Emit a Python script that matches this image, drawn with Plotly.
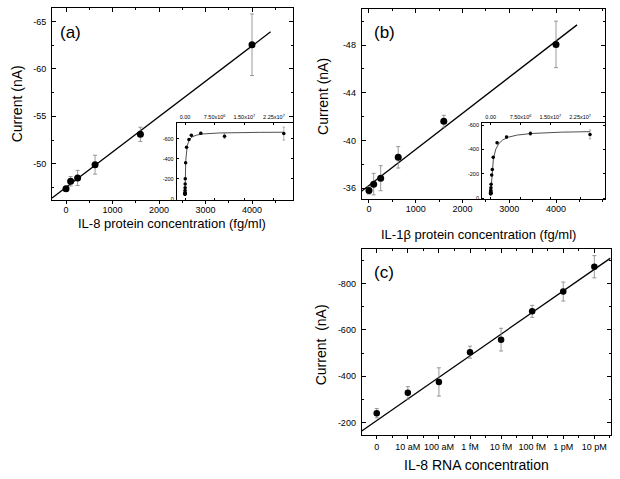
import numpy as np
import plotly.graph_objects as go

W, H = 620, 479

# ---------------- data ----------------
# Panel (a): IL-8 protein
a_conc = [0, 100, 250, 625, 1600, 4000]
a_current = [-47.35, -48.15, -48.5, -49.9, -53.1, -62.55]
a_err = [0.25, 0.5, 0.8, 1.0, 0.75, 3.25]
a_line_span = [-300, 4400]

# Panel (a) inset: full concentration range
ai_conc = [0, 100, 250, 625, 1600, 4000, 1e4, 2.5e4, 4e4, 6.4e4, 1.6e5, 4e5, 1e6, 1.6e6, 4e6, 1e7, 2.5e7]
ai_current = [-47.4, -48.2, -48.5, -49.9, -53.1, -62.6, -83, -110, -147, -200, -360, -517, -593, -637, -657, -627, -653]
ai_err = [3, 3, 3, 3, 3, 3, 3, 3, 4, 5, 6, 6, 8, 8, 10, 25, 65]

# Panel (b): IL-1beta protein
b_conc = [0, 100, 250, 625, 1600, 4000]
b_current = [-35.8, -36.33, -36.83, -38.58, -41.6, -48.05]
b_err = [0.3, 0.9, 1.05, 0.9, 0.5, 1.95]
b_line_span = [-160, 4450]

# Panel (b) inset
bi_conc = [0, 100, 250, 625, 1600, 4000, 1e4, 2.5e4, 6.4e4, 1e5, 2.56e5, 4e5, 6.4e5, 1.6e6, 4e6, 1e7, 2.5e7]
bi_current = [-35.8, -36.3, -36.8, -38.6, -41.6, -48.1, -55, -65, -85, -113, -189, -235, -336, -455, -502, -532, -524]
bi_err = [3, 3, 3, 3, 3, 3, 3, 3, 4, 5, 6, 6, 8, 8, 10, 15, 37]

# Panel (c): IL-8 RNA
c_labels = ["0", "10 aM", "100 aM", "1 fM", "10 fM", "100 fM", "1 pM", "10 pM"]
c_current = [-241, -328.5, -375.6, -504, -558, -680, -765.5, -872.4]
c_err = [20, 27, 61, 26, 49, 26, 41, 48]
c_fit_slope = -93.1
c_fit_intercept = -209.4

# tick values / labels
a_xticks = [0, 1000, 2000, 3000, 4000]
a_yticks = [-65, -60, -55, -50]
b_yticks = [-48, -44, -40, -36]
in_xticks = [0, 7.5e6, 1.5e7, 2.25e7]
in_xlabels = ["0.00", "7.50x10<sup>6</sup>", "1.50x10<sup>7</sup>", "2.25x10<sup>7</sup>"]
ai_yticks = [0, -200, -400, -600]
c_yticks = [-800, -600, -400, -200]

FONT = "Arial, Liberation Sans, sans-serif"


def hyperbolic_fit(x, y):
    x = np.asarray(x, float)
    y = np.asarray(y, float)
    best = None
    for k in np.geomspace(1e3, 1e8, 600):
        f = x / (k + x)
        A = np.column_stack([np.ones_like(f), f])
        coef = np.linalg.lstsq(A, y, rcond=None)[0]
        sse = float(((A @ coef - y) ** 2).sum())
        if best is None or sse < best[0]:
            best = (sse, k, coef)
    return best[1], best[2]


def px_x(p):
    return p / W


def px_y(p):
    return 1 - p / H


fig = go.Figure()

black = "#000000"
errc = "#808080"

# ---------- panel (a) ----------
sa, ia = np.polyfit(a_conc, a_current, 1)
xa = np.array(a_line_span, float)
fig.add_trace(go.Scatter(x=xa, y=sa * xa + ia, mode="lines", line=dict(color=black, width=1.3),
                         xaxis="x", yaxis="y", hoverinfo="skip"))
fig.add_trace(go.Scatter(x=a_conc, y=a_current, mode="markers", marker=dict(color=black, size=7),
                         error_y=dict(type="data", array=a_err, color=errc, thickness=0.8, width=2),
                         xaxis="x", yaxis="y"))
fig.add_trace(go.Scatter(x=[None], y=[None], xaxis="x2", yaxis="y", hoverinfo="skip"))

k, coef = hyperbolic_fit(ai_conc, ai_current)
xs = np.concatenate([[0.0], np.geomspace(1e2, max(ai_conc), 500)])
fig.add_trace(go.Scatter(x=xs, y=coef[0] + coef[1] * xs / (k + xs), mode="lines",
                         line=dict(color="#222", width=0.8), xaxis="x3", yaxis="y3", hoverinfo="skip"))
fig.add_trace(go.Scatter(x=ai_conc, y=ai_current, mode="markers", marker=dict(color=black, size=3.5),
                         error_y=dict(type="data", array=ai_err, color=errc, thickness=0.6, width=1.2),
                         xaxis="x3", yaxis="y3"))

# ---------- panel (b) ----------
sb, ib = np.polyfit(b_conc, b_current, 1)
xb = np.array(b_line_span, float)
fig.add_trace(go.Scatter(x=xb, y=sb * xb + ib, mode="lines", line=dict(color=black, width=1.3),
                         xaxis="x4", yaxis="y4", hoverinfo="skip"))
fig.add_trace(go.Scatter(x=b_conc, y=b_current, mode="markers", marker=dict(color=black, size=7),
                         error_y=dict(type="data", array=b_err, color=errc, thickness=0.8, width=2),
                         xaxis="x4", yaxis="y4"))
fig.add_trace(go.Scatter(x=[None], y=[None], xaxis="x5", yaxis="y4", hoverinfo="skip"))

k2, coef2 = hyperbolic_fit(bi_conc, bi_current)
xs2 = np.concatenate([[0.0], np.geomspace(1e2, max(bi_conc), 500)])
fig.add_trace(go.Scatter(x=xs2, y=coef2[0] + coef2[1] * xs2 / (k2 + xs2), mode="lines",
                         line=dict(color="#222", width=0.8), xaxis="x6", yaxis="y6", hoverinfo="skip"))
fig.add_trace(go.Scatter(x=bi_conc, y=bi_current, mode="markers", marker=dict(color=black, size=3.5),
                         error_y=dict(type="data", array=bi_err, color=errc, thickness=0.6, width=1.2),
                         xaxis="x6", yaxis="y6"))

# ---------- panel (c) ----------
c_idx = list(range(len(c_labels)))
c_range = [-0.484, 7.52]
xc = np.array(c_range, float)
fig.add_trace(go.Scatter(x=xc, y=c_fit_slope * xc + c_fit_intercept, mode="lines",
                         line=dict(color=black, width=1.3), xaxis="x7", yaxis="y7", hoverinfo="skip"))
fig.add_trace(go.Scatter(x=c_idx, y=c_current, mode="markers", marker=dict(color=black, size=6.5),
                         error_y=dict(type="data", array=c_err, color=errc, thickness=0.8, width=2),
                         xaxis="x7", yaxis="y7"))
fig.add_trace(go.Scatter(x=[None], y=[None], xaxis="x8", yaxis="y7", hoverinfo="skip"))

tickfont = dict(family=FONT, size=9, color=black)
smallfont = dict(family=FONT, size=5.5, color=black)


def xbottom(domain, rng, tv, tt, anchor, minor_dtick, minor_tick0=0, standoff=-2):
    return dict(domain=domain, range=rng, anchor=anchor, tickmode="array", tickvals=tv, ticktext=tt,
                ticks="outside", ticklen=3, tickwidth=1, tickcolor=black,
                minor=dict(ticks="outside", ticklen=2, tickmode="linear", tick0=minor_tick0,
                           dtick=minor_dtick, tickcolor=black),
                showline=True, linecolor=black, linewidth=1, mirror=True,
                showgrid=False, zeroline=False, tickfont=tickfont, ticklabelstandoff=standoff)


def xtop(over, rng, tv, anchor, minor_dtick, minor_tick0=0):
    return dict(overlaying=over, side="top", range=rng, anchor=anchor, tickmode="array", tickvals=tv,
                ticks="inside", ticklen=4, tickcolor=black, showticklabels=False,
                minor=dict(ticks="inside", ticklen=2, tickmode="linear", tick0=minor_tick0,
                           dtick=minor_dtick, tickcolor=black),
                showline=False, showgrid=False, zeroline=False)


def yleft(domain, rng, tv, anchor, minor_dtick, minor_tick0):
    return dict(domain=domain, range=rng, anchor=anchor, tickmode="array", tickvals=tv,
                ticktext=[str(v) for v in tv],
                ticks="inside", ticklen=4, tickcolor=black,
                minor=dict(ticks="inside", ticklen=2, tickmode="linear", tick0=minor_tick0,
                           dtick=minor_dtick, tickcolor=black),
                showline=True, linecolor=black, linewidth=1, mirror="ticks",
                showgrid=False, zeroline=False, tickfont=tickfont, ticklabelstandoff=3)


def inset_x(domain, rng, anchor):
    return dict(domain=domain, range=rng, anchor=anchor, side="top", tickmode="array",
                tickvals=in_xticks, ticktext=in_xlabels, ticks="inside", ticklen=2, tickcolor=black,
                showline=True, linecolor=black, linewidth=0.8, mirror="ticks",
                showgrid=False, zeroline=False, tickfont=smallfont, ticklabelstandoff=1)


def inset_y(domain, rng, anchor):
    return dict(domain=domain, range=rng, anchor=anchor, tickmode="array",
                tickvals=ai_yticks, ticktext=[str(v) for v in ai_yticks],
                ticks="inside", ticklen=2, tickcolor=black,
                showline=True, linecolor=black, linewidth=0.8, mirror="ticks",
                showgrid=False, zeroline=False, tickfont=smallfont, ticklabelstandoff=1)


a_xr = [-301, 4888]
b_xr = [-156, 5048]

layout = dict(
    width=W, height=H, margin=dict(l=0, r=0, t=0, b=0), autosize=False,
    paper_bgcolor="white", plot_bgcolor="white", showlegend=False,
    font=dict(family=FONT, color=black),
    xaxis=xbottom([px_x(52), px_x(293.3)], a_xr, a_xticks, [str(v) for v in a_xticks], "y", 500),
    yaxis=yleft([px_y(200), px_y(7.3)], [-46.2, -66.4], a_yticks, "x", 2.5, -65),
    xaxis2=xtop("x", a_xr, a_xticks, "y", 500),
    xaxis3=inset_x([px_x(176.7), px_x(293.3)], [-2.1e6, 2.74e7], "y3"),
    yaxis3=inset_y([px_y(200), px_y(122.7)], [10, -760], "x3"),
    xaxis4=xbottom([px_x(361.7), px_x(605)], b_xr, a_xticks, [str(v) for v in a_xticks], "y4", 500),
    yaxis4=yleft([px_y(199.3), px_y(8.3)], [-35.08, -51.0], b_yticks, "x4", 2, -48),
    xaxis5=xtop("x4", b_xr, a_xticks, "y4", 500),
    xaxis6=inset_x([px_x(482), px_x(605)], [-2.19e6, 2.877e7], "y6"),
    yaxis6=inset_y([px_y(199.3), px_y(122.7)], [8.2, -618.9], "x6"),
    xaxis7=xbottom([px_x(361.7), px_x(610.5)], c_range, c_idx, c_labels, "y7", 1, 0.5, 0),
    yaxis7=yleft([px_y(436.7), px_y(249.3)], [-147, -950], c_yticks, "x7", 100, -900),
    xaxis8=xtop("x7", c_range, c_idx, "y7", 1, 0.5),
)
fig.update_layout(**layout)


def ann(text, x, y, size, angle=0):
    fig.add_annotation(text=text, x=px_x(x), y=px_y(y), xref="paper", yref="paper",
                       showarrow=False, xanchor="center", yanchor="middle", textangle=angle,
                       font=dict(family=FONT, size=size, color=black))


ann("(a)", 70, 32, 17)
ann("(b)", 384.7, 32, 17)
ann("(c)", 383.8, 273, 17)
ann("Current (nA)", 16.5, 103.5, 14, -90)
ann("Current (nA)", 323.5, 96, 14, -90)
ann("Current  (nA)", 321, 346.5, 14, -90)
ann("IL-8 protein concentration (fg/ml)", 172, 224, 13)
ann("IL-1β protein concentration (fg/ml)", 478.3, 235, 13)
ann("IL-8 RNA concentration", 476.7, 466.7, 14)

fig.write_html("out.html", config={"displayModeBar": False},
               post_script="document.body.style.margin='0';document.body.style.overflow='hidden';")
